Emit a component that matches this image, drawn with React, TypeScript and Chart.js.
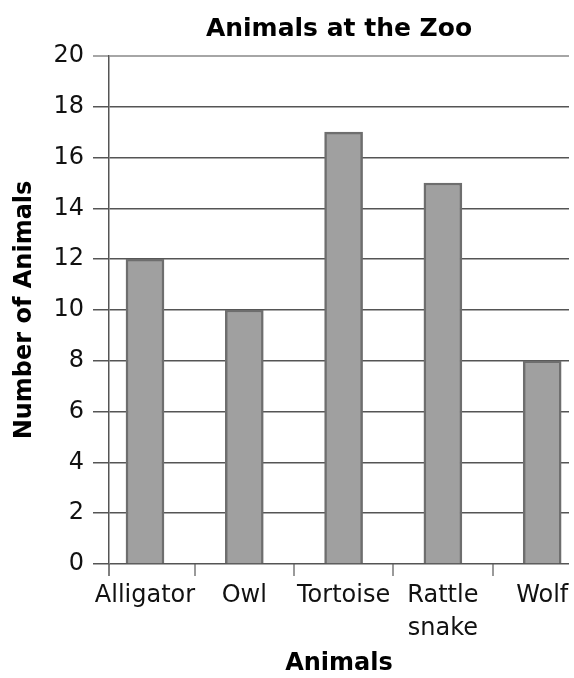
import React, { useEffect, useRef } from "react";
import { Chart, registerables } from "chart.js";

Chart.register(...registerables);

// Zoo head-count per animal
const animals: string[] = ["Alligator", "Owl", "Tortoise", "Rattle\nsnake", "Wolf"];
const counts: number[] = [12, 10, 17, 15, 8];

// Value axis ticks
const yMin = 0;
const yMax = 20;
const yStep = 2;

const titleText = "Animals at the Zoo";
const xTitleText = "Animals";
const yTitleText = "Number of Animals";

const FONT = "'DejaVu Sans', Verdana, sans-serif";

// Short stub of the value axis that continues below the baseline
const axisStub = {
  id: "axisStub",
  afterDatasetsDraw(chart: Chart) {
    const { ctx, chartArea } = chart;
    ctx.save();
    ctx.strokeStyle = "#555555";
    ctx.lineWidth = 1.5;
    ctx.beginPath();
    ctx.moveTo(chartArea.left, chartArea.bottom);
    ctx.lineTo(chartArea.left, chartArea.bottom + 12);
    ctx.stroke();
    ctx.restore();
  },
};

export default function App() {
  const canvasRef = useRef<HTMLCanvasElement | null>(null);

  useEffect(() => {
    const canvas = canvasRef.current;
    if (!canvas) return;

    const points = counts.map((v, i) => ({ x: i, y: v }));

    const chart = new Chart(canvas, {
      type: "bar",
      data: {
        datasets: [
          {
            data: points,
            backgroundColor: "#a0a0a0",
            borderColor: "#6e6e6e",
            borderWidth: 2.5,
            borderSkipped: "bottom",
            barThickness: 38,
          },
        ],
      },
      plugins: [axisStub],
      options: {
        responsive: false,
        devicePixelRatio: 1,
        animation: false,
        layout: { padding: { left: 0, right: 5, top: 0, bottom: 0 } },
        plugins: {
          legend: { display: false },
          tooltip: { enabled: false },
          title: {
            display: true,
            fullSize: false,
            text: titleText,
            color: "#000000",
            font: { family: FONT, size: 25, weight: "bold", lineHeight: 1.2 },
            padding: { top: 14, bottom: 12 },
          },
        },
        scales: {
          x: {
            type: "linear",
            min: -0.3625,
            max: 4.27,
            offset: false,
            afterFit(scale: any) {
              scale.height = 114;
            },
            ticks: {
              stepSize: 1,
              includeBounds: false,
              autoSkip: false,
              maxRotation: 0,
              minRotation: 0,
              padding: 4,
              color: "#111111",
              font: { family: FONT, size: 24, lineHeight: 1.35 },
              callback(value: any) {
                const label = animals[Number(value)];
                return label === undefined ? "" : label.split("\n");
              },
            },
            grid: {
              offset: true,
              drawOnChartArea: false,
              drawTicks: true,
              tickLength: 12,
              color: "#9a9a9a",
              lineWidth: 2,
            },
            border: { display: false },
            title: {
              display: true,
              text: xTitleText,
              color: "#000000",
              font: { family: FONT, size: 24, weight: "bold", lineHeight: 1.2 },
              padding: { top: 0, bottom: 0 },
            },
          },
          y: {
            min: yMin,
            max: yMax,
            afterFit(scale: any) {
              scale.width = 109;
            },
            ticks: {
              stepSize: yStep,
              padding: 9,
              color: "#111111",
              font: { family: FONT, size: 24 },
            },
            grid: {
              drawTicks: true,
              tickLength: 16,
              color: (c: any) => (c.tick && c.tick.value === yMax ? "#a6a6a6" : "#555555"),
              lineWidth: (c: any) => (c.tick && c.tick.value === yMax ? 2 : 1.5),
            },
            border: { display: true, color: "#555555", width: 1.5 },
            title: {
              display: true,
              text: yTitleText,
              color: "#000000",
              font: { family: FONT, size: 24, weight: "bold", lineHeight: 1.2 },
              padding: { top: 10, bottom: 0 },
            },
          },
        },
      },
    });

    return () => chart.destroy();
  }, []);

  return (
    <div style={{ position: "absolute", left: 0, top: 0, width: 574, height: 678, background: "#ffffff" }}>
      <canvas ref={canvasRef} width={574} height={678} />
    </div>
  );
}
